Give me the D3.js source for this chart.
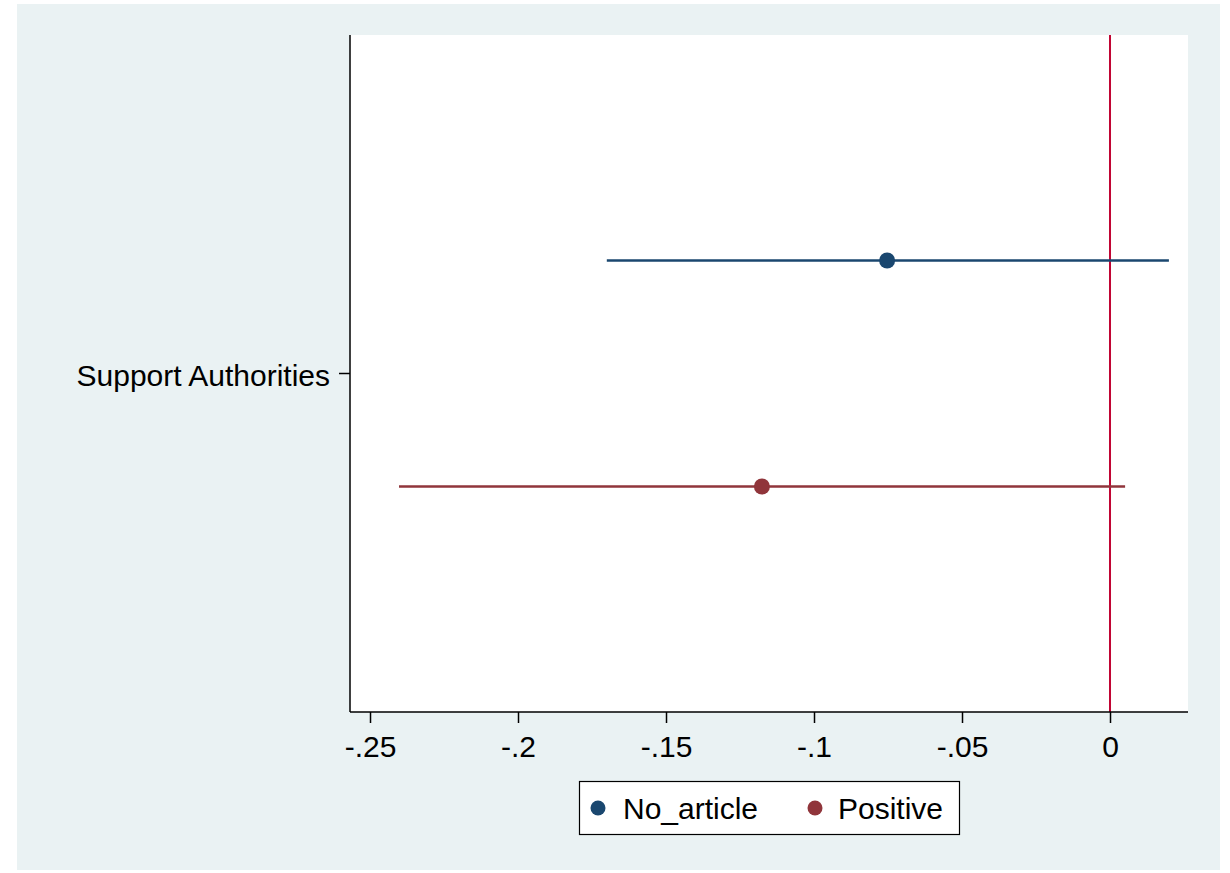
<!DOCTYPE html>
<html>
<head>
<meta charset="utf-8">
<script src="https://cdn.jsdelivr.net/npm/d3@7"></script>
<style>
html,body{margin:0;padding:0;background:#fff;}
svg{display:block;font-family:"Liberation Sans",Arial,sans-serif;}
</style>
</head>
<body>
<svg id="chart" width="1230" height="873"></svg>
<script>
const categories = ["Support Authorities"];
const seriesNames = ["No_article", "Positive"];
const seriesColors = ["#1a476f", "#90353b"];
const estimates = [-0.0753, -0.1176];
const lowerCI = [-0.1700, -0.2402];
const upperCI = [0.0199, 0.0051];
const xTicks = [-0.25, -0.2, -0.15, -0.1, -0.05, 0];
const xTickLabels = ["-.25", "-.2", "-.15", "-.1", "-.05", "0"];
const refLine = 0;

const svg = d3.select("#chart");
const W = 1230, H = 873;
const plot = {left: 350, right: 1188, top: 35, bottom: 712};
const FS = 30;

svg.append("rect").attr("x", 0).attr("y", 0).attr("width", W).attr("height", H).attr("fill", "#ffffff");
svg.append("rect").attr("x", 17).attr("y", 4).attr("width", 1203).attr("height", 866).attr("fill", "#eaf2f3");
svg.append("rect").attr("x", plot.left).attr("y", plot.top)
  .attr("width", plot.right - plot.left).attr("height", plot.bottom - plot.top).attr("fill", "#ffffff");

const x = d3.scaleLinear().domain([-0.25676, 0.02635]).range([plot.left, plot.right]);
const y = d3.scaleBand().domain(categories).range([plot.top, plot.bottom]);
const yOff = d3.scalePoint().domain(seriesNames).range([-113, 113]);

// reference line
svg.append("line")
  .attr("x1", x(refLine)).attr("x2", x(refLine))
  .attr("y1", plot.top).attr("y2", plot.bottom)
  .attr("stroke", "#c10534").attr("stroke-width", 2);

// x axis
const xAxis = d3.axisBottom(x).tickValues(xTicks)
  .tickFormat((d, i) => xTickLabels[i]).tickSize(11).tickPadding(13).tickSizeOuter(0);
const gx = svg.append("g").attr("transform", `translate(0,${plot.bottom})`).call(xAxis);
gx.attr("font-size", FS).attr("font-family", "'Liberation Sans', Arial, sans-serif");
gx.select(".domain").attr("stroke", "#000").attr("stroke-width", 1.5)
  .attr("d", `M${plot.left},0H${plot.right}`);
gx.selectAll(".tick line").attr("stroke", "#000").attr("stroke-width", 1.5);
gx.selectAll(".tick text").attr("fill", "#000");

// y axis
const yAxis = d3.axisLeft(y).tickSize(11).tickPadding(9).tickSizeOuter(0);
const gy = svg.append("g").attr("transform", `translate(${plot.left},0)`).call(yAxis);
gy.attr("font-size", FS).attr("font-family", "'Liberation Sans', Arial, sans-serif");
gy.select(".domain").attr("stroke", "#000").attr("stroke-width", 1.5)
  .attr("d", `M0,${plot.top}V${plot.bottom}`);
gy.selectAll(".tick line").attr("stroke", "#000").attr("stroke-width", 1.5);
gy.selectAll(".tick text").attr("fill", "#000").attr("dy", "0.4em");

// series
seriesNames.forEach((s, i) => {
  const cy = y(categories[0]) + y.bandwidth() / 2 + yOff(s);
  svg.append("line")
    .attr("x1", x(lowerCI[i])).attr("x2", x(upperCI[i]))
    .attr("y1", cy).attr("y2", cy)
    .attr("stroke", seriesColors[i]).attr("stroke-width", 2.5);
  svg.append("circle")
    .attr("cx", x(estimates[i])).attr("cy", cy).attr("r", 8)
    .attr("fill", seriesColors[i]);
});

// legend
const lg = svg.append("g");
lg.append("rect").attr("x", 579.5).attr("y", 781.5).attr("width", 380).attr("height", 53)
  .attr("fill", "#fff").attr("stroke", "#000").attr("stroke-width", 1.2);
const legendPos = [{cx: 598, tx: 623}, {cx: 815, tx: 838}];
seriesNames.forEach((s, i) => {
  lg.append("circle").attr("cx", legendPos[i].cx).attr("cy", 808).attr("r", 7.5).attr("fill", seriesColors[i]);
  lg.append("text").attr("x", legendPos[i].tx).attr("y", 819).attr("font-size", FS)
    .attr("fill", "#000").text(s);
});
</script>
</body>
</html>
